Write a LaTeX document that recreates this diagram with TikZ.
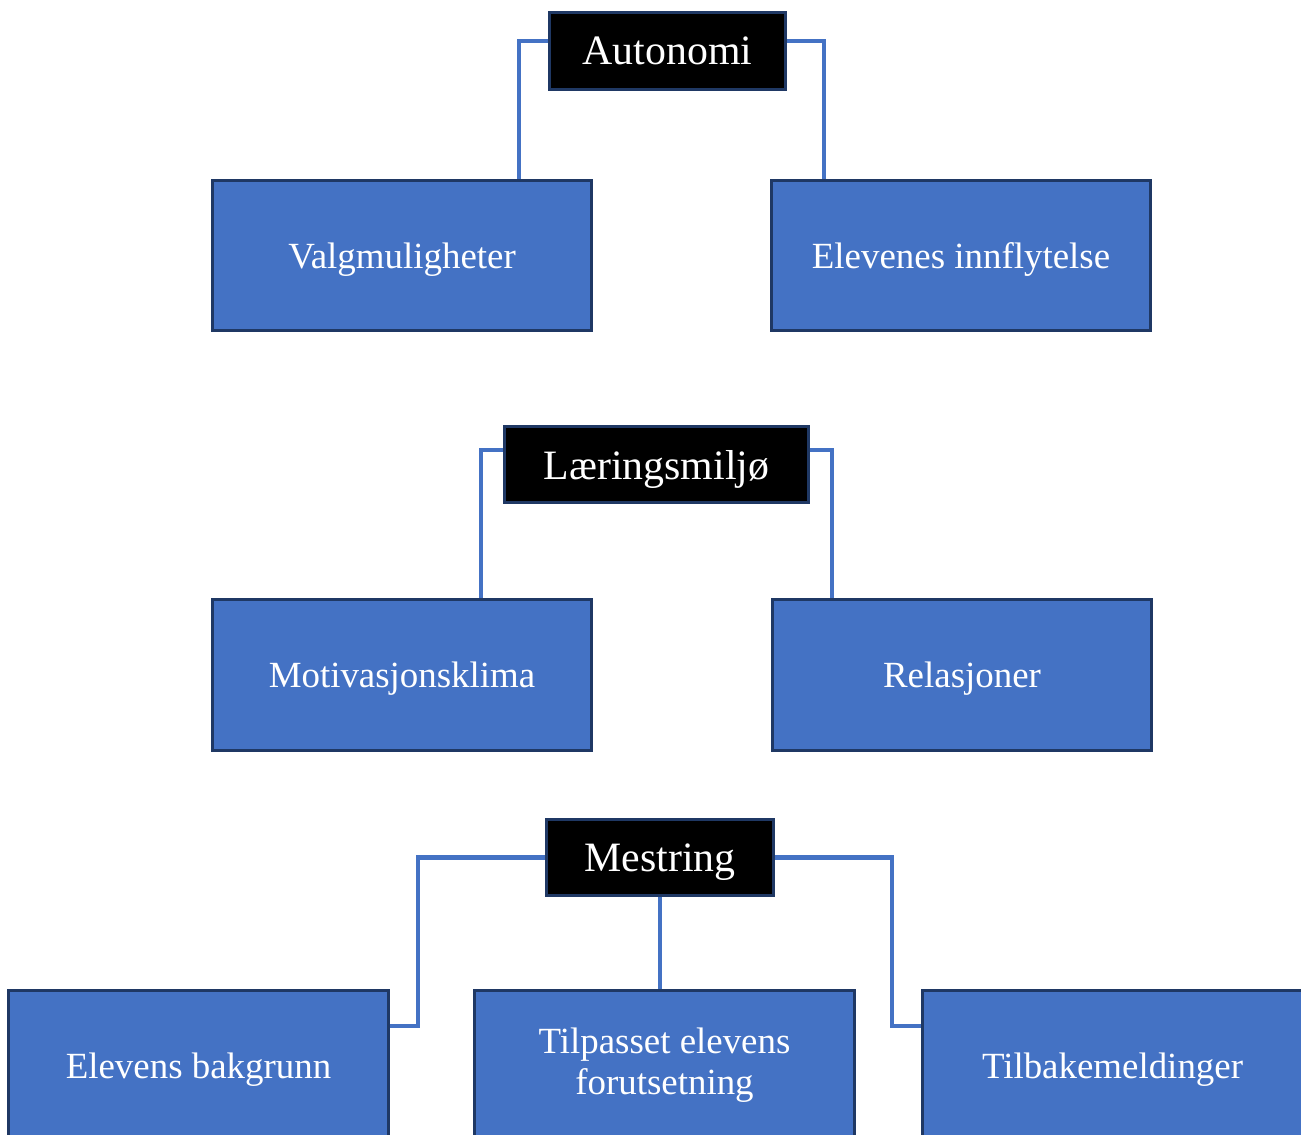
\documentclass[tikz,border=0pt]{standalone}
\usepackage{fontspec}
\setmainfont{Liberation Serif}
\definecolor{boxblue}{HTML}{4472C4}
\definecolor{boxedge}{HTML}{1F3864}
\tikzstyle{headbox} = [rectangle, minimum height=1.53cm, text centered, draw=boxedge, line width=1.7pt, fill=black, text=white, font=\fontsize{23.8}{26}\selectfont, text depth=0pt]
\tikzstyle{subbox} = [rectangle, minimum width=7.6cm, minimum height=3.02cm, text centered, draw=boxedge, line width=1.7pt, fill=boxblue, text=white, font=\fontsize{21}{23.2}\selectfont]
\tikzstyle{oneline} = [subbox, text depth=0pt]
\tikzstyle{link} = [draw=boxblue, line width=2.8pt]

\begin{document}
\begin{tikzpicture}[x=0.02cm, y=-0.02cm]
\useasboundingbox (0,0) rectangle (1301,1135);
\clip (0,0) rectangle (1301,1135);
  % Define the blocks
\node (auto) [headbox, minimum width=4.72cm] at (667.5,51) {Autonomi};
\node (valg) [oneline] at (402,255.5) {Valgmuligheter};
\node (innfl) [oneline] at (961,255.5) {Elevenes innflytelse};
\node (laer) [headbox, minimum width=6.1cm] at (656.5,464.5) {Læringsmiljø};
\node (motiv) [oneline] at (402,675) {Motivasjonsklima};
\node (rel) [oneline] at (962,675) {Relasjoner};
\node (mest) [headbox, minimum width=4.56cm] at (660,857.5) {Mestring};
\node (bakg) [oneline] at (198.5,1065.5) {Elevens bakgrunn};
\node (tilp) [subbox, align=center] at (664.5,1065.5) {Tilpasset elevens\\forutsetning};
\node (tilb) [oneline] at (1112.5,1065.5) {Tilbakemeldinger};

% Bend points
\coordinate (autoL) at (519,41);
\coordinate (autoR) at (824,41);
\coordinate (laerL) at (481,450);
\coordinate (laerR) at (832,450);
\coordinate (mestL) at (418,1026);
\coordinate (mestR) at (892,1026);

% Draw the links
\draw [link] (auto.west |- autoL) -| (valg.north -| autoL);
\draw [link] (auto.east |- autoR) -| (innfl.north -| autoR);
\draw [link] (laer.west |- laerL) -| (motiv.north -| laerL);
\draw [link] (laer.east |- laerR) -| (rel.north -| laerR);
\draw [link] (mest.west) -| (mestL) -- (bakg.east |- mestL);
\draw [link] (mest.south) -- (mest.south |- tilp.north);
\draw [link] (mest.east) -| (mestR) -- (tilb.west |- mestR);

\end{tikzpicture}
\end{document}
